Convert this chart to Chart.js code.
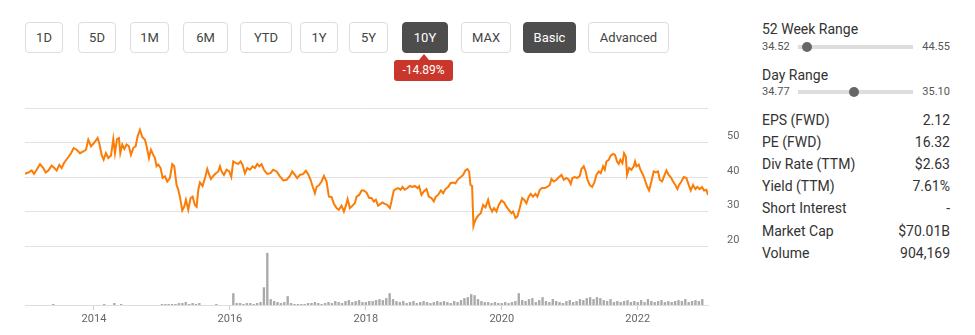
<!DOCTYPE html>
<html>
<head>
<meta charset="utf-8">
<script src="https://cdn.jsdelivr.net/npm/chart.js@4"></script>
<style>
  body { margin: 0; width: 975px; height: 335px; background: #fff; font-family: Roboto, "Noto Sans", sans-serif; position: relative; overflow: hidden; }
  .btn { position: absolute; top: 22px; height: 29px; border: 1px solid #ddd; border-radius: 4px; font-size: 13px; color: #444; line-height: 29px; text-align: center; background: #fff; }
  .btn.on { background: #4d4d4d; border-color: #4d4d4d; color: #fff; }
  .chg { position: absolute; left: 394px; top: 60px; width: 59px; height: 21px; line-height: 21px; background: #c9372c; color: #fff; font-size: 12px; text-align: center; border-radius: 3px; }
  .chg:before { content: ""; position: absolute; left: 25px; top: -6px; border-left: 5px solid transparent; border-right: 5px solid transparent; border-bottom: 6px solid #c9372c; }
  .stat { position: absolute; left: 762px; width: 188px; font-size: 14px; color: #333; }
  .stat span { position: absolute; right: 0; top: 0; }
  .rng { position: absolute; left: 762px; width: 188px; height: 12px; font-size: 11px; color: #555; }
  .rng .lo { position: absolute; left: 0; top: -1px; }
  .rng .hi { position: absolute; right: 0; top: -1px; }
  .rng .track { position: absolute; left: 36px; width: 115px; top: 4px; height: 4px; background: #ddd; }
  .rng .knob { position: absolute; top: 1px; width: 10px; height: 10px; margin-left: -5px; border-radius: 50%; background: #666; }
  canvas { position: absolute; left: 0; }
</style>
</head>
<body>
<div class="btn" style="left:25px;width:36px">1D</div>
<div class="btn" style="left:78px;width:36px">5D</div>
<div class="btn" style="left:130px;width:37px">1M</div>
<div class="btn" style="left:183px;width:43px">6M</div>
<div class="btn" style="left:240px;width:50px">YTD</div>
<div class="btn" style="left:300px;width:36px">1Y</div>
<div class="btn" style="left:349px;width:37px">5Y</div>
<div class="btn on" style="left:402px;width:44px">10Y</div>
<div class="btn" style="left:461px;width:48px">MAX</div>
<div class="btn on" style="left:523px;width:51px">Basic</div>
<div class="btn" style="left:588px;width:79px">Advanced</div>
<div class="chg">-14.89%</div>

<div class="stat" style="top:21px">52 Week Range</div>
<div class="rng" style="top:41px"><span class="lo">34.52</span><div class="track"></div><div class="knob" style="left:45px"></div><span class="hi">44.55</span></div>
<div class="stat" style="top:67px">Day Range</div>
<div class="rng" style="top:86px"><span class="lo">34.77</span><div class="track"></div><div class="knob" style="left:92px"></div><span class="hi">35.10</span></div>
<div class="stat" style="top:112px">EPS (FWD)<span>2.12</span></div>
<div class="stat" style="top:134px">PE (FWD)<span>16.32</span></div>
<div class="stat" style="top:156px">Div Rate (TTM)<span>$2.63</span></div>
<div class="stat" style="top:178px">Yield (TTM)<span>7.61%</span></div>
<div class="stat" style="top:200px">Short Interest<span>-</span></div>
<div class="stat" style="top:223px">Market Cap<span>$70.01B</span></div>
<div class="stat" style="top:245px">Volume<span>904,169</span></div>

<canvas id="price" width="760" height="154" style="top:100px"></canvas>
<canvas id="volume" width="760" height="95" style="top:240px"></canvas>

<script>
// closing prices, dates as decimal years
const priceDates = [
  2012.985, 2013.034, 2013.083, 2013.117, 2013.157, 2013.206, 2013.255, 2013.289, 2013.328, 2013.377,
  2013.416, 2013.451, 2013.490, 2013.524, 2013.563, 2013.613, 2013.662, 2013.701, 2013.745, 2013.794,
  2013.843, 2013.882, 2013.916, 2013.956,
  2014.005, 2014.054, 2014.078, 2014.113, 2014.142, 2014.176, 2014.211, 2014.250, 2014.284, 2014.309,
  2014.338, 2014.367, 2014.387, 2014.416, 2014.446, 2014.480, 2014.514, 2014.544, 2014.578, 2014.613,
  2014.642, 2014.676, 2014.711, 2014.750, 2014.774, 2014.809, 2014.838, 2014.872, 2014.897, 2014.921,
  2014.946, 2014.980,
  2015.010, 2015.044, 2015.078, 2015.117, 2015.152, 2015.181, 2015.215, 2015.240, 2015.264, 2015.299,
  2015.328, 2015.353, 2015.387, 2015.421, 2015.451, 2015.485,
  2015.510, 2015.535, 2015.559, 2015.598, 2015.633, 2015.667, 2015.696, 2015.721, 2015.755, 2015.794,
  2015.829, 2015.853, 2015.878, 2015.912, 2015.951, 2015.990,
  2016.020, 2016.049, 2016.088, 2016.123, 2016.157, 2016.187, 2016.221, 2016.255, 2016.294, 2016.334,
  2016.368, 2016.402, 2016.432, 2016.466, 2016.500, 2016.549, 2016.598, 2016.637, 2016.687, 2016.736,
  2016.785, 2016.834, 2016.883, 2016.917, 2016.956, 2016.990,
  2017.030, 2017.079, 2017.118, 2017.157, 2017.187, 2017.216, 2017.250, 2017.275, 2017.314, 2017.348,
  2017.383, 2017.422, 2017.456, 2017.495, 2017.530, 2017.569, 2017.603, 2017.642, 2017.677, 2017.706,
  2017.731, 2017.765, 2017.804, 2017.838, 2017.863, 2017.902, 2017.937, 2017.971,
  2018.010, 2018.049, 2018.083, 2018.117, 2018.147, 2018.181, 2018.215, 2018.245, 2018.279, 2018.313,
  2018.353, 2018.377, 2018.411, 2018.441, 2018.475, 2018.510, 2018.539, 2018.573, 2018.612, 2018.647,
  2018.686, 2018.720, 2018.760, 2018.784, 2018.818, 2018.853, 2018.892, 2018.926, 2018.965,
  2019.000, 2019.029, 2019.063, 2019.103, 2019.137, 2019.171, 2019.210, 2019.245, 2019.284, 2019.318,
  2019.358, 2019.397, 2019.431, 2019.465, 2019.495, 2019.519, 2019.539, 2019.563, 2019.583, 2019.603,
  2019.627, 2019.661, 2019.691, 2019.725, 2019.760, 2019.799, 2019.823, 2019.858, 2019.887, 2019.921,
  2019.956, 2019.995,
  2020.034, 2020.068, 2020.103, 2020.142, 2020.166, 2020.201, 2020.230, 2020.264, 2020.299, 2020.328,
  2020.362, 2020.397, 2020.426, 2020.460, 2020.495, 2020.524, 2020.559, 2020.593, 2020.633, 2020.667,
  2020.706, 2020.731, 2020.765, 2020.804, 2020.843, 2020.878, 2020.912, 2020.951, 2020.985,
  2021.015, 2021.039, 2021.074, 2021.108, 2021.147, 2021.172, 2021.206, 2021.235, 2021.260, 2021.294,
  2021.329, 2021.358, 2021.392, 2021.427, 2021.456, 2021.490, 2021.515, 2021.539, 2021.574, 2021.603,
  2021.637, 2021.667, 2021.696, 2021.721, 2021.745, 2021.775, 2021.799, 2021.824, 2021.843, 2021.873,
  2021.907, 2021.941, 2021.961, 2021.981,
  2022.015, 2022.044, 2022.079, 2022.113, 2022.142, 2022.167, 2022.201, 2022.235, 2022.265, 2022.299,
  2022.324, 2022.358, 2022.387, 2022.422, 2022.456, 2022.485, 2022.520, 2022.554, 2022.584, 2022.608,
  2022.642, 2022.677, 2022.716, 2022.750, 2022.780, 2022.814, 2022.848, 2022.878, 2022.912, 2022.946,
  2022.976,
  2023.010, 2023.034
];
const prices = [
  40.9, 41.3, 41.9, 40.9, 42.1, 43.7, 42.6, 41.3, 41.9, 43.3,
  42.6, 41.9, 43.5, 42.6, 44.2, 45.5, 46.9, 48.4, 47.9, 46.9,
  47.4, 47.9, 50.8, 48.9,
  50.0, 51.3, 49.8, 46.4, 45.0, 46.9, 45.5, 46.2, 51.0, 46.9,
  51.0, 51.3, 46.9, 49.4, 48.1, 49.4, 48.9, 46.4, 48.4, 48.9,
  51.8, 53.7, 51.6, 50.8, 48.9, 45.5, 47.9, 46.4, 45.5, 43.1,
  43.6, 42.6,
  39.7, 40.2, 38.7, 39.7, 43.7, 43.1, 37.7, 36.3, 34.3, 30.3,
  31.4, 33.4, 30.5, 33.9, 34.3, 31.9,
  31.4, 36.3, 38.4, 37.4, 39.7, 42.3, 40.6, 39.4, 40.3, 41.1,
  41.6, 43.1, 41.6, 40.6, 42.1, 41.6,
  40.0, 44.5, 44.0, 43.8, 44.5, 43.5, 41.1, 42.6, 42.1, 43.1,
  42.6, 43.8, 43.1, 43.7, 42.1, 40.9, 41.1, 42.1, 41.6, 40.2,
  39.0, 39.2, 40.3, 41.6, 40.6, 39.7,
  40.6, 40.9, 41.8, 40.6, 39.2, 37.3, 35.3, 37.1, 37.7, 38.7,
  40.3, 38.7, 34.3, 34.2, 32.2, 31.0, 30.5, 31.7, 30.0, 31.7,
  33.6, 31.0, 31.7, 32.4, 34.3, 34.8, 36.1, 36.1,
  35.5, 33.9, 33.9, 32.9, 33.4, 31.7, 32.2, 32.6, 32.2, 31.9,
  31.0, 32.9, 36.1, 36.5, 36.8, 36.3, 37.1, 36.3, 36.8, 37.4,
  37.1, 37.4, 36.8, 37.3, 34.8, 35.8, 36.5, 34.3, 33.9,
  32.9, 34.3, 34.8, 36.1, 35.3, 36.5, 37.1, 38.2, 38.4, 38.2,
  39.4, 40.0, 40.6, 41.9, 42.3, 41.6, 37.7, 37.4, 25.8, 27.1,
  28.1, 29.0, 29.5, 31.9, 31.2, 33.4, 31.4, 30.0, 31.0, 30.0,
  31.9, 33.2,
  32.6, 31.4, 30.5, 29.5, 30.0, 28.1, 28.6, 31.0, 33.9, 33.4,
  32.4, 34.3, 35.1, 34.3, 35.1, 34.3, 36.3, 36.8, 36.8, 37.1,
  37.7, 39.4, 38.7, 39.2, 40.0, 40.6, 39.2, 39.7, 39.2,
  38.0, 39.7, 40.0, 39.7, 40.3, 42.3, 43.1, 41.6, 39.2, 37.7,
  37.1, 38.2, 40.6, 41.6, 41.1, 43.1, 42.1, 44.5, 45.0, 46.2,
  46.7, 46.4, 44.5, 43.8, 45.0, 44.0, 46.9, 46.0, 40.6, 42.6,
  42.1, 43.1, 44.5, 43.1,
  43.6, 41.9, 40.6, 38.7, 37.1, 36.1, 38.7, 41.6, 41.3, 41.6,
  39.2, 38.7, 40.2, 41.9, 40.6, 40.0, 38.7, 37.7, 36.5, 37.7,
  38.7, 40.0, 39.7, 37.7, 36.1, 37.7, 36.5, 37.1, 36.5, 37.1,
  36.1,
  36.3, 34.8
];

// traded volume, one bar every volStep years from volStart
const volStart = 2013.0;
const volStep = 0.05;
const volumes = [
  0, 0, 0, 0, 0, 0, 0, 0, 1, 0,
  0, 0, 0, 0, 0, 0, 0, 0, 0, 0,
  0, 0, 0, 1, 0, 0, 2, 0, 1, 0,
  0, 0, 0, 0, 0, 0, 0, 0, 0, 0,
  1, 1, 1, 1, 1, 2, 2, 3, 1, 2,
  1, 2, 0, 0, 0, 0, 1, 0, 0, 0,
  0, 12, 2, 2, 1, 2, 2, 1, 2, 3,
  18, 53, 6, 4, 3, 2, 3, 9, 2, 1,
  1, 1, 1, 2, 2, 3, 2, 1, 2, 3,
  2, 4, 3, 2, 4, 5, 3, 4, 5, 3,
  3, 4, 4, 5, 6, 5, 7, 12, 6, 4,
  3, 4, 2, 3, 4, 2, 3, 4, 3, 2,
  3, 4, 3, 4, 3, 2, 4, 3, 5, 7,
  8, 11, 10, 6, 4, 3, 3, 2, 3, 2,
  2, 3, 2, 3, 4, 12, 5, 4, 6, 7,
  3, 5, 8, 4, 3, 6, 4, 3, 2, 4,
  5, 3, 4, 6, 5, 7, 8, 6, 8, 7,
  5, 4, 6, 3, 4, 3, 4, 5, 3, 4,
  3, 5, 3, 6, 4, 3, 4, 5, 3, 4,
  3, 4, 5, 4, 6, 3, 4, 5, 4, 6
];

const yearTicks = [2014, 2016, 2018, 2020, 2022];
const priceTicks = [20, 30, 40, 50, 60];

const xMin = priceDates[0];
const xMax = priceDates[priceDates.length - 1];
const tickFont = { family: 'Roboto', size: 11 };

new Chart(document.getElementById('price'), {
  type: 'line',
  data: {
    datasets: [{
      data: priceDates.map((d, i) => ({ x: d, y: prices[i] })),
      borderColor: '#fb7d07',
      borderWidth: 2,
      pointRadius: 0,
      tension: 0
    }]
  },
  options: {
    responsive: false,
    animation: false,
    devicePixelRatio: 1,
    layout: { padding: { left: 25, top: 8, right: 0, bottom: 8 } },
    plugins: { legend: { display: false }, tooltip: { enabled: false } },
    scales: {
      x: { type: 'linear', min: xMin, max: xMax, display: false },
      y: {
        position: 'right',
        min: 20,
        max: 60,
        afterBuildTicks: (s) => { s.ticks = priceTicks.map(v => ({ value: v })); },
        afterFit: (s) => { s.width = 52; },
        ticks: {
          color: '#666',
          font: tickFont,
          padding: 0,
          labelOffset: -6,
          callback: (v) => v === 60 ? '' : String(v)
        },
        // invisible tick marks push the labels away from the plot
        grid: { color: '#e2e2e2', drawTicks: true, tickLength: 19, tickColor: 'rgba(0,0,0,0)' },
        border: { display: false }
      }
    }
  }
});

new Chart(document.getElementById('volume'), {
  type: 'bar',
  data: {
    datasets: [{
      data: volumes.map((v, i) => ({ x: volStart + i * volStep, y: v })),
      backgroundColor: '#aaa',
      barPercentage: 0.7,
      categoryPercentage: 1
    }]
  },
  options: {
    responsive: false,
    animation: false,
    devicePixelRatio: 1,
    layout: { padding: { left: 25, top: 6, right: 52, bottom: 0 } },
    plugins: { legend: { display: false }, tooltip: { enabled: false } },
    scales: {
      x: {
        type: 'linear',
        offset: false,
        min: xMin,
        max: xMax,
        afterBuildTicks: (s) => { s.ticks = yearTicks.map(v => ({ value: v })); },
        afterFit: (s) => { s.height = 30; },
        ticks: { color: '#666', font: tickFont, padding: 3, maxRotation: 0, autoSkip: false, callback: (v) => String(v) },
        grid: { drawOnChartArea: false, drawTicks: true, tickLength: 5, color: '#ccc', offset: false },
        border: { color: '#ddd' }
      },
      y: { display: false, min: 0, max: 60 }
    }
  }
});
</script>
</body>
</html>
